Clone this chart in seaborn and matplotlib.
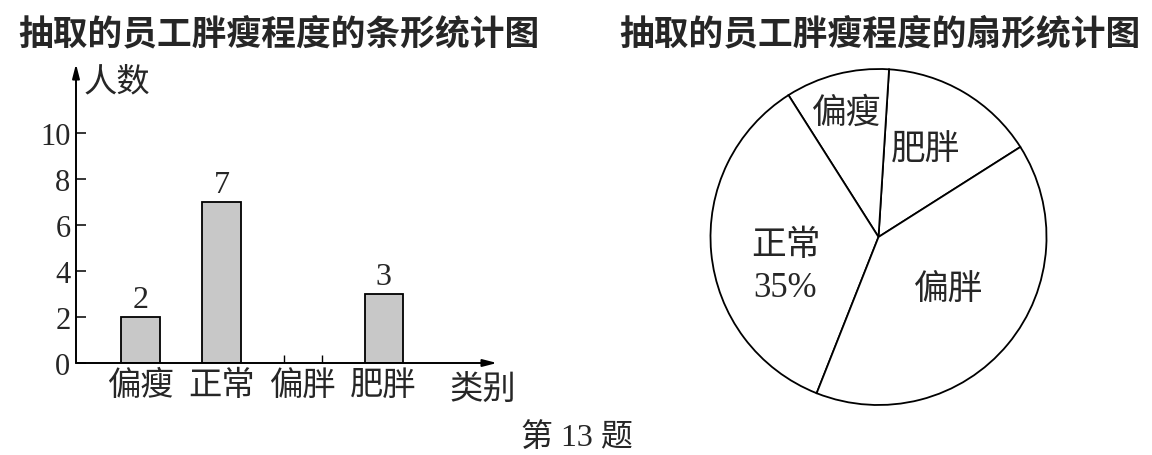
import numpy as np
import pandas as pd
import matplotlib
matplotlib.use("Agg")
import matplotlib.pyplot as plt
import seaborn as sns

sns.set_theme(style="white")
plt.rcParams["font.family"] = ["Liberation Serif", "Noto Sans CJK SC"]
plt.rcParams["axes.unicode_minus"] = False

# bar chart data (偏胖 is left blank in the original)
categories = ["偏瘦", "正常", "偏胖", "肥胖"]
bar_counts = [2, 7, np.nan, 3]
y_ticks = [0, 2, 4, 6, 8, 10]

# pie chart data (counter-clockwise order)
pie_labels = ["肥胖", "偏瘦", "正常", "偏胖"]
pie_counts = [3, 2, 7, 8]
pie_texts = ["肥胖", "偏瘦", "正常\n35%", "偏胖"]

title_bar = "抽取的员工胖瘦程度的条形统计图"
title_pie = "抽取的员工胖瘦程度的扇形统计图"
caption = "第 13 题"

W, H = 1152, 456
fig = plt.figure(figsize=(W / 100, H / 100), dpi=100)

# ---- bar chart ----
ax = fig.add_axes([76 / W, (H - 364) / H, 421 / W, 299 / H])
df = pd.DataFrame({"类别": categories, "人数": bar_counts})
bw = 0.47
sns.barplot(data=df, x="类别", y="人数", order=categories, color="#c8c8c8",
            saturation=1, edgecolor="black", linewidth=1.3, width=bw, ax=ax)
ax.set_xlim(-0.796, 4.40)
ax.set_ylim(0, 13)
ax.set_yticks(y_ticks)
ax.set_xlabel("")
ax.set_ylabel("")
for s in ax.spines.values():
    s.set_visible(False)
ax.tick_params(axis="x", length=0, pad=5, labelsize=24)
ax.tick_params(axis="y", direction="in", length=7, width=1.3, pad=4,
               labelsize=22, left=True)
ax.bar_label(ax.containers[0], fmt="%g", padding=2, fontsize=23)

# blank bar for 偏胖: only small edge marks
i_blank = categories.index("偏胖")
ax.vlines([i_blank - bw / 2, i_blank + bw / 2], 0, 0.35, color="black", lw=1.0)

arrow = dict(arrowstyle="-|>,head_length=0.7,head_width=0.18", color="black",
             lw=1.4, shrinkA=0, shrinkB=0)
ax.annotate("", xy=(1, 0), xytext=(0, 0), xycoords="axes fraction",
            textcoords="axes fraction", arrowprops=arrow)
ax.annotate("", xy=(0, 1), xytext=(0, 0), xycoords="axes fraction",
            textcoords="axes fraction", arrowprops=arrow)
ax.text(-0.70, 12.2, "人数", ha="left", va="center", fontsize=24)
ax.text(4.22, -1.13, "类别", ha="center", va="center", fontsize=24, clip_on=False)

# ---- pie chart ----
r_px = 168 * 1.02
cx, cy = 878.5, 238
ax2 = fig.add_axes([(cx - r_px) / W, (H - cy - r_px) / H, 2 * r_px / W, 2 * r_px / H])
wedges, _ = ax2.pie(pie_counts, startangle=32.4, counterclock=True,
                    colors=["white"] * len(pie_counts),
                    wedgeprops=dict(edgecolor="black", linewidth=1.3))
ax2.set_xlim(-1.02, 1.02)
ax2.set_ylim(-1.02, 1.02)
label_place = {"肥胖": (0.59, 2), "偏瘦": (0.76, 0), "正常": (0.58, 12), "偏胖": (0.52, 3)}
for w, lab, txt in zip(wedges, pie_labels, pie_texts):
    r, off = label_place[lab]
    ang = np.deg2rad((w.theta1 + w.theta2) / 2 + off)
    ax2.text(r * np.cos(ang), r * np.sin(ang), txt, ha="center", va="center",
             fontsize=25, linespacing=1.35)

# ---- titles and caption ----
fig.text(18 / W, 1 - 34 / H, title_bar, ha="left", va="center", fontsize=25,
         fontweight="bold", family="Noto Sans CJK SC")
fig.text(619 / W, 1 - 34 / H, title_pie, ha="left", va="center", fontsize=25,
         fontweight="bold", family="Noto Sans CJK SC")
fig.text(576.5 / W, 1 - 438 / H, caption, ha="center", va="center", fontsize=23)

fig.savefig("out.png", dpi=100, facecolor="white")
